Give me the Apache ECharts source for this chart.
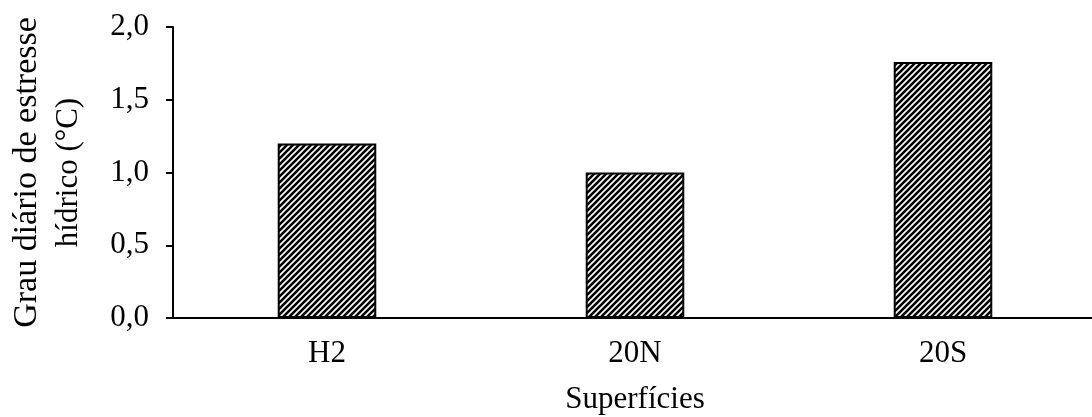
<!DOCTYPE html>
<html>
<head>
<meta charset="utf-8">
<script src="https://cdn.jsdelivr.net/npm/echarts@6/dist/echarts.min.js"></script>
<style>
html,body{margin:0;padding:0;background:#fff;}
#chart{width:1092px;height:417px;}
</style>
</head>
<body>
<div id="chart"></div>
<script>
var categories = ['H2', '20N', '20S'];
var values = [1.20, 1.00, 1.76];
var yAxisNameLines = ['Grau diário de estresse', 'hídrico (°C)'];
var xAxisName = 'Superfícies';

function makeHatch() {
  var s = 6;
  var c = document.createElement('canvas');
  c.width = s; c.height = s;
  var ctx = c.getContext('2d');
  ctx.fillStyle = '#fff';
  ctx.fillRect(0, 0, s, s);
  ctx.strokeStyle = '#000';
  ctx.lineWidth = 2.6;
  ctx.beginPath();
  ctx.moveTo(-s, s); ctx.lineTo(s, -s);
  ctx.moveTo(0, 2 * s); ctx.lineTo(2 * s, 0);
  ctx.moveTo(0, s); ctx.lineTo(s, 0);
  ctx.stroke();
  return c;
}

var font = '"Liberation Serif", "Times New Roman", serif';
var fs = 31;
var chart = echarts.init(document.getElementById('chart'), null, {renderer: 'canvas'});
chart.setOption({
  animation: false,
  backgroundColor: '#fff',
  grid: {left: 173, right: -5, top: 27, bottom: 99, containLabel: false, outerBoundsMode: 'none'},
  xAxis: {
    type: 'category',
    data: categories,
    name: xAxisName,
    nameLocation: 'middle',
    nameGap: 66,
    nameTextStyle: {fontFamily: font, fontSize: fs, color: '#000'},
    axisLine: {lineStyle: {color: '#000', width: 2}},
    axisTick: {alignWithLabel: true, length: 6, lineStyle: {color: '#000', width: 2}},
    axisLabel: {fontFamily: font, fontSize: fs, color: '#000', margin: 20}
  },
  yAxis: {
    type: 'value',
    min: 0, max: 2, interval: 0.5,
    name: '{a|' + yAxisNameLines[0] + '}\n{b|' + yAxisNameLines[1] + '}',
    nameLocation: 'middle',
    nameGap: 84,
    nameRotate: 90,
    nameTextStyle: {
      fontFamily: font, fontSize: fs, color: '#000', align: 'center',
      rich: {
        a: {fontFamily: font, fontSize: 34, color: '#000', lineHeight: 41, align: 'center'},
        b: {fontFamily: font, fontSize: 31, color: '#000', lineHeight: 41, align: 'center'}
      }
    },
    axisLine: {show: true, lineStyle: {color: '#000', width: 2}},
    axisTick: {show: true, length: 7, lineStyle: {color: '#000', width: 2}},
    splitLine: {show: false},
    axisLabel: {
      fontFamily: font, fontSize: fs, color: '#000', margin: 24,
      formatter: function (v) { return v.toFixed(1).replace('.', ','); }
    }
  },
  series: [{
    type: 'bar',
    data: values,
    barWidth: '32%',
    itemStyle: {
      color: {image: makeHatch(), repeat: 'repeat'},
      borderColor: '#000',
      borderWidth: 2
    }
  }]
});
</script>
</body>
</html>
